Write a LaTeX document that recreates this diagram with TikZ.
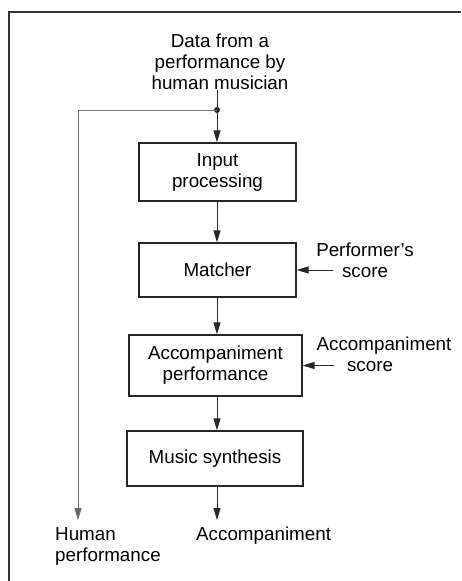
\documentclass[tikz,border=0pt]{standalone}
\usepackage{fontspec}
\setmainfont{Liberation Sans}
\usetikzlibrary{arrows.meta,calc}
\begin{document}
\begin{tikzpicture}[x=1pt,y=-1pt,
  font=\fontsize{18.8}{21}\selectfont,
  line/.style={draw=black!85, line width=0.9pt},
  arr/.style={line, -{Triangle[length=12pt,width=7pt]}},
  blk/.style={draw=black!85, line width=1.3pt, inner sep=0pt, align=center},
  lbl/.style={inner sep=0pt, align=center}]
\useasboundingbox (0,0) rectangle (461,581);
\fill[white] (0,0) rectangle (461,581);
% frame
\draw[black!80, line width=1.3pt] (461,12) -- (9,12) -- (9,581);
% boxes
\node[blk, minimum width=157pt, minimum height=58pt] (inp) at (217.5,172) {Input\\processing};
\node[blk, minimum width=157pt, minimum height=54pt] (mat) at (217.5,270) {Matcher};
\node[blk, minimum width=173pt, minimum height=61pt] (acc) at (215.5,365.5) {Accompaniment\\performance};
\node[blk, minimum width=176pt, minimum height=55pt] (mus) at (215,458.5) {Music synthesis};
% labels
\node[lbl] (data) at (220,61.5) {Data from a\\performance by\\human musician};
\node[lbl] (ps) at (365,260) {Performer's\\score};
\node[lbl] (as) at (384,354) {Accompaniment\\\hspace*{-28pt}score};
\node[lbl, anchor=west] (out) at (196,536) {Accompaniment};
\node[lbl, align=left, anchor=north west] (hp) at (55,527) {Human\\performance};
% coordinates
\coordinate (j) at (217,110);
\coordinate (fl) at (78,110);
\coordinate (fe) at (78,520);
\coordinate (oe) at (217,520);
\coordinate (pss) at (333,270);
\coordinate (ass) at (334,365.5);
% connectors
\draw[line] (217,90) -- (j);
\draw[arr] (j) -- (j |- inp.north);
\fill[black!85] (j) circle (3pt);
\draw[line, black!55] (j) -- (fl);
\draw[arr, draw=black!60] (fl) -- (fe);
\draw[arr] (j |- inp.south) -- (j |- mat.north);
\draw[arr] (j |- mat.south) -- (j |- acc.north);
\draw[arr] (j |- acc.south) -- (j |- mus.north);
\draw[arr] (j |- mus.south) -- (oe);
\draw[arr] (pss) -- (mat.east);
\draw[arr] (ass) -- (acc.east);
\end{tikzpicture}
\end{document}
